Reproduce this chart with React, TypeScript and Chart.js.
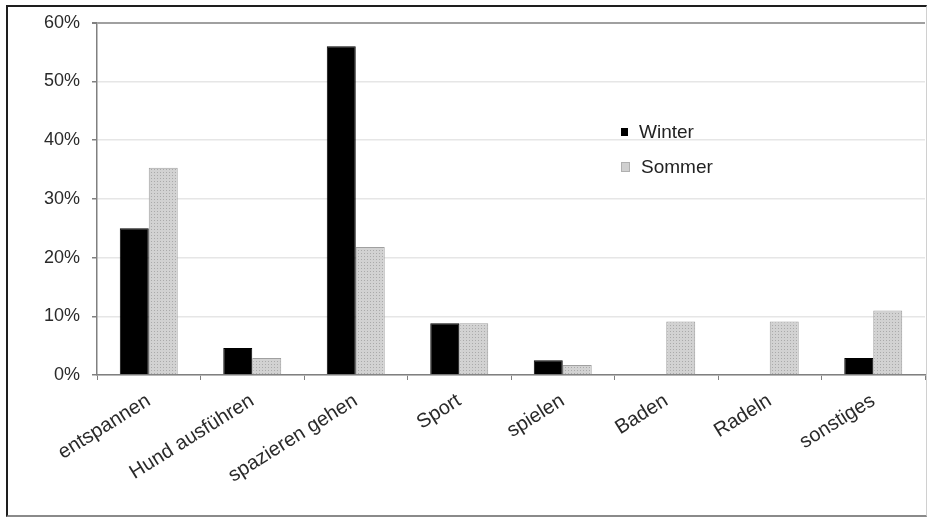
import React, { useEffect, useRef } from "react";
import { Chart, registerables } from "chart.js";

Chart.register(...registerables);

const categories = [
  "entspannen",
  "Hund ausführen",
  "spazieren gehen",
  "Sport",
  "spielen",
  "Baden",
  "Radeln",
  "sonstiges",
];
const winterValues = [25.0, 4.6, 56.0, 8.8, 2.5, 0, 0, 2.9];
const sommerValues = [35.3, 2.9, 21.8, 8.8, 1.7, 9.1, 9.1, 11.0];
const seriesNames = ["Winter", "Sommer"];
const yTicks = [0, 10, 20, 30, 40, 50, 60];

function makeDotPattern(): CanvasPattern | string {
  const c = document.createElement("canvas");
  c.width = 3;
  c.height = 3;
  const g = c.getContext("2d");
  if (!g) return "#d0d0d0";
  g.fillStyle = "#d2d2d2";
  g.fillRect(0, 0, 3, 3);
  g.fillStyle = "#aaaaaa";
  g.fillRect(1, 1, 1, 1);
  const p = g.createPattern(c, "repeat");
  return p || "#d0d0d0";
}

export default function App() {
  const ref = useRef<HTMLCanvasElement | null>(null);

  useEffect(() => {
    document.body.style.margin = "0";
    document.body.style.overflow = "hidden";
    const canvas = ref.current;
    if (!canvas) return;
    const pattern = makeDotPattern();
    const chart = new Chart(canvas, {
      type: "bar",
      data: {
        labels: categories,
        datasets: [
          {
            label: seriesNames[0],
            data: winterValues,
            backgroundColor: "#000000",
            borderColor: "#000000",
            borderWidth: 1,
            categoryPercentage: 0.56,
            barPercentage: 1.0,
          },
          {
            label: seriesNames[1],
            data: sommerValues,
            backgroundColor: pattern as any,
            borderColor: "#a0a0a0",
            borderWidth: 1,
            categoryPercentage: 0.56,
            barPercentage: 1.0,
          },
        ],
      },
      options: {
        animation: false,
        responsive: false,
        maintainAspectRatio: false,
        layout: { padding: { left: 0, top: 20, right: 2, bottom: 0 } },
        plugins: {
          legend: { display: false },
          tooltip: { enabled: false },
        },
        scales: {
          x: {
            offset: true,
            grid: {
              display: true,
              offset: true,
              drawOnChartArea: false,
              drawTicks: true,
              tickLength: 5,
              tickColor: "#808080",
            },
            border: { display: true, color: "#808080", width: 1.5 },
            ticks: {
              autoSkip: false,
              minRotation: 32,
              maxRotation: 32,
              padding: 9,
              color: "#2a2a2a",
              font: { family: "'Liberation Sans', Arial, sans-serif", size: 20 },
            },
            afterFit: (s: any) => {
              s.height = 142;
            },
          },
          y: {
            min: 0,
            max: 60,
            afterBuildTicks: (s: any) => {
              s.ticks = yTicks.map((v) => ({ value: v }));
            },
            grid: {
              color: (ctx: any) =>
                ctx.tick && ctx.tick.value === 60 ? "#a0a0a0" : "#e6e6e6",
              lineWidth: (ctx: any) => (ctx.tick && ctx.tick.value === 60 ? 2 : 1.5),
              tickLength: 5,
              tickColor: "#808080",
            },
            border: { display: true, color: "#808080", width: 1.5 },
            ticks: {
              padding: 12,
              color: "#2a2a2a",
              font: { family: "'Liberation Sans', Arial, sans-serif", size: 18 },
              callback: (v: any) => v + "%",
            },
            afterFit: (s: any) => {
              s.width = 97;
            },
          },
        },
      },
    });
    return () => chart.destroy();
  }, []);

  const legendFont = "'Liberation Sans', Arial, sans-serif";
  return (
    <div>
      <canvas
        ref={ref}
        width={927}
        height={517}
        style={{ position: "fixed", left: 0, top: 0, width: 927, height: 517 }}
      />
      <div
        style={{
          position: "fixed",
          left: 6,
          top: 5,
          width: 918,
          height: 508,
          borderTop: "2px solid #1e1e1e",
          borderLeft: "2px solid #1e1e1e",
          borderBottom: "2px solid #8a8a8a",
          borderRight: "1px solid #d0d0d0",
          pointerEvents: "none",
        }}
      />
      {seriesNames.map((name, i) => (
        <div
          key={name}
          style={{
            position: "fixed",
            left: 621,
            top: 120 + i * 35,
            height: 24,
            display: "flex",
            alignItems: "center",
            fontFamily: legendFont,
            fontSize: 19,
            color: "#222",
          }}
        >
          <span
            style={{
              display: "inline-block",
              width: 7,
              height: 8,
              background: i === 0 ? "#000" : "#d0d0d0",
              border: i === 0 ? "none" : "1px solid #b0b0b0",
              marginRight: 11,
            }}
          />
          {name}
        </div>
      ))}
    </div>
  );
}
